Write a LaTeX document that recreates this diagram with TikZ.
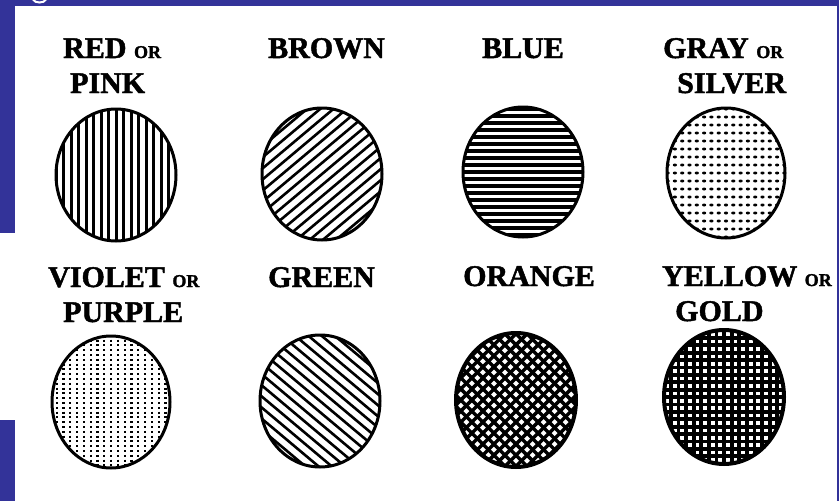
\documentclass[tikz,border=0pt]{standalone}
\usepackage{fontspec}
\setmainfont{Liberation Serif}[BoldFeatures={FakeBold=1.6}]
\definecolor{slideblue}{RGB}{51,51,153}
\tikzset{
  lbl/.style={font=\bfseries\fontsize{30}{30}\selectfont, inner sep=0pt, anchor=base west},
  rim/.style={line width=3pt},
  hatch/.style={line width=3pt},
  dotcol/.style={line width=2.2pt, dash pattern=on 2pt off 2.8pt}
}
\newcommand{\orword}{{\fontsize{18}{18}\selectfont OR}}

\begin{document}
\begin{tikzpicture}[x=1pt,y=-1pt]
\useasboundingbox (0,0) rectangle (839,501);
\fill[white] (0,0) rectangle (839,501);
% frame
\fill[slideblue] (0,0) rectangle (839,6);
\fill[slideblue] (0,0) rectangle (15,233);
\fill[slideblue] (0,420) rectangle (15,501);
\fill[slideblue] (836.5,0) rectangle (839,501);
\draw[white, line width=2pt] (33,-0.5) .. controls (35,3.5) and (44,3.5) .. (46,-0.5);
% labels
\node[lbl] (red) at (63,58) {RED \orword};
\node[lbl] (pink) at (70,93) {PINK};
\node[lbl] (brown) at (268,58) {BROWN};
\node[lbl] (blue) at (482,58) {BLUE};
\node[lbl] (gray) at (663,58) {GRAY \orword};
\node[lbl] (silver) at (677,93) {SILVER};
\node[lbl] (violet) at (48,287) {VIOLET \orword};
\node[lbl] (purple) at (63,322) {PURPLE};
\node[lbl] (green) at (268,287) {GREEN};
\node[lbl] (orange) at (463,286) {ORANGE};
\node[lbl] (yellow) at (662,286) {YELLOW \orword};
\node[lbl] (gold) at (675,321) {GOLD};
% red or pink: vertical lines
\begin{scope}
\clip (116,175) ellipse (60 and 66);
\foreach \k in {-8,...,8} \draw[hatch] (116+7.5*\k,100) -- (116+7.5*\k,250);
\end{scope}
\draw[rim] (116,175) ellipse (60 and 66);
% brown: rising diagonals
\begin{scope}
\clip (322,174) ellipse (60 and 66);
\begin{scope}[shift={(322,174)}, rotate=40]
\foreach \k in {-9,...,9} \draw[line width=2.6pt] (-100,8.5*\k) -- (100,8.5*\k);
\end{scope}
\end{scope}
\draw[rim] (322,174) ellipse (60 and 66);
% blue: horizontal lines
\begin{scope}
\clip (523,172) ellipse (60 and 65);
\foreach \k in {-10,...,10} \draw[line width=3.4pt] (450,172+7*\k) -- (600,172+7*\k);
\end{scope}
\draw[rim] (523,172) ellipse (60 and 65);
% gray or silver: dots
\begin{scope}
\clip (726,173) ellipse (59 and 65);
\foreach \i in {-8,...,8}
  \foreach \j in {-8,...,8}
    \fill (726+7.3*\i,173+8*\j) ellipse (2.1 and 1.5);
\end{scope}
\draw[rim] (726,173) ellipse (59 and 65);
% violet or purple: dotted columns
\begin{scope}
\clip (111,402) ellipse (59 and 66);
\foreach \k in {-9,...,9} \draw[dotcol] (111+6.8*\k,330) -- (111+6.8*\k,475);
\end{scope}
\draw[rim] (111,402) ellipse (59 and 66);
% green: falling diagonals
\begin{scope}
\clip (320,401) ellipse (60 and 66);
\begin{scope}[shift={(320,401)}, rotate=-40]
\foreach \k in {-9,...,9} \draw[line width=2.6pt] (-100,8.5*\k) -- (100,8.5*\k);
\end{scope}
\end{scope}
\draw[rim] (320,401) ellipse (60 and 66);
% orange: cross hatch
\begin{scope}
\clip (516,400) ellipse (60 and 67);
\begin{scope}[shift={(516,400)}]
\foreach \k in {-13,...,13} {
  \draw[line width=3.4pt, rotate=45] (-110,7.8*\k) -- (110,7.8*\k);
  \draw[line width=3.4pt, rotate=-45] (-110,7.8*\k) -- (110,7.8*\k);
}
\end{scope}
\end{scope}
\draw[line width=4pt] (516,400) ellipse (60 and 67);
% yellow or gold: square grid
\begin{scope}
\clip (724,397) ellipse (60 and 67);
\foreach \k in {-9,...,9} {
  \draw[line width=3.8pt] (724+7.6*\k,320) -- (724+7.6*\k,475);
  \draw[line width=3.8pt] (650,397+7.4*\k) -- (800,397+7.4*\k);
}
\end{scope}
\draw[line width=4pt] (724,397) ellipse (60 and 67);
\end{tikzpicture}
\end{document}
